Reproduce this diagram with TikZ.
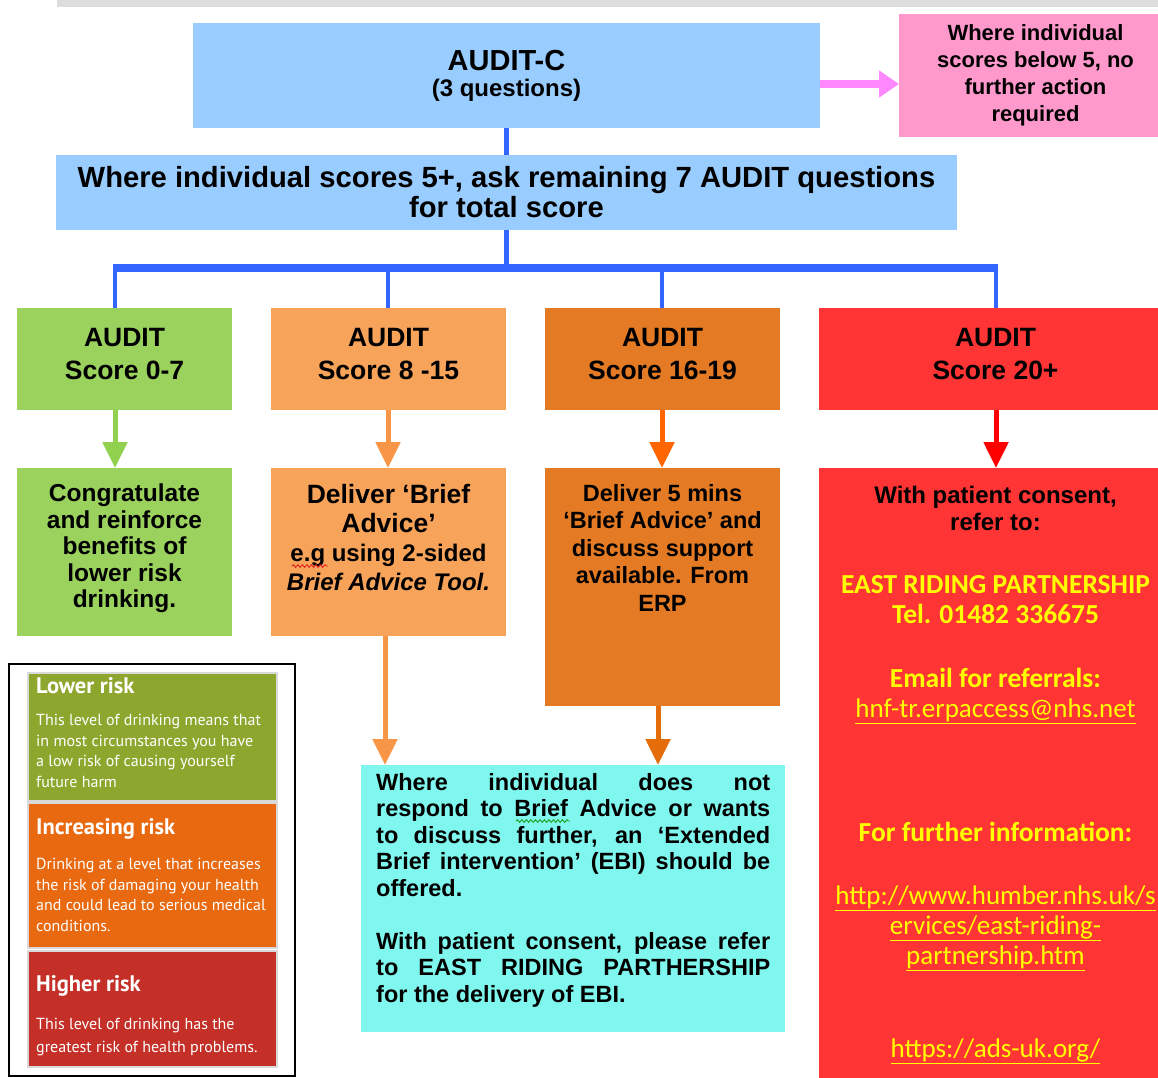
\documentclass[tikz,border=0pt]{standalone}
\usepackage{fontspec}
\setmainfont{Liberation Sans}
\newfontfamily\carl{Carlito}
\newfontfamily\ptsans{PT Sans}
\usetikzlibrary{arrows.meta,decorations.pathmorphing}
\definecolor{cblue}{HTML}{99CCFF}
\definecolor{cpink}{HTML}{FF99CC}
\definecolor{cpinkarr}{HTML}{FF88FF}
\definecolor{cline}{HTML}{3366FF}
\definecolor{cgreen}{HTML}{9BD25E}
\definecolor{clorange}{HTML}{F7A35A}
\definecolor{corange}{HTML}{E47B24}
\definecolor{cred}{HTML}{FF3434}
\definecolor{cgreenA}{HTML}{92D050}
\definecolor{clorangeA}{HTML}{F79646}
\definecolor{corangeA}{HTML}{FF6600}
\definecolor{corangeB}{HTML}{E46C0A}
\definecolor{credA}{HTML}{FF0000}
\definecolor{ccyan}{HTML}{7FF6EE}
\definecolor{cyel}{HTML}{FFFF00}
\definecolor{lgreen}{HTML}{8DA72E}
\definecolor{lorange}{HTML}{E8690F}
\definecolor{lred}{HTML}{C43028}
\definecolor{cgray}{HTML}{DDDDDD}
\definecolor{spellred}{HTML}{E02020}
\definecolor{spellgreen}{HTML}{20A020}
\newcommand{\fsz}[2]{\fontsize{#1}{#2}\selectfont}
\begin{document}
\begin{tikzpicture}[x=1pt,y=-1pt,
  box/.style n args={2}{anchor=north west,inner sep=0pt,outer sep=0pt,minimum width=#1,minimum height=#2},
  txt/.style={inner sep=0pt,align=center},
  scoretxt/.style={txt,font=\fsz{26.5}{33}\bfseries},
  conn/.style={draw=cline,line width=4.5pt},
  barline/.style={draw=cline,line width=8pt},
  arr/.style={line width=5pt,-{Triangle[width=24pt,length=26pt]}},
  panel/.style={draw=black!15,line width=1.5pt},
  wavy/.style={line width=0.9pt,decorate,decoration={snake,amplitude=1.3pt,segment length=4.5pt}},
  legtitle/.style={anchor=west,inner sep=0pt,text=white,font=\ptsans\bfseries\fsz{22.5}{26}},
  legbody/.style={anchor=north west,inner sep=0pt,align=left,text=white,font=\ptsans\fsz{16}{20.7}}]
\useasboundingbox (0,0) rectangle (1158,1077);
\fill[cgray] (57,0) rectangle (1172,7);

% top boxes
\node[box={627pt}{105pt},fill=cblue,txt,font=\fsz{24}{26}\bfseries] (audc) at (193,23)
  {{\fontsize{29}{26}\selectfont AUDIT-C}\\(3 questions)};
\node[box={273pt}{123pt},fill=cpink,txt,font=\fsz{22}{27}\bfseries] (pink) at (899,14)
  {Where individual\\scores below 5, no\\further action\\required};
\node[box={901pt}{75pt},fill=cblue,txt,font=\fsz{29.2}{30}\bfseries] (q7) at (56,155)
  {Where individual scores 5+, ask remaining 7 AUDIT questions\\for total score};

% score boxes
\node[box={215pt}{102pt},fill=cgreen] (a1) at (17,308) {};
\node[box={235pt}{102pt},fill=clorange] (a2) at (271,308) {};
\node[box={235pt}{102pt},fill=corange] (a3) at (545,308) {};
\node[box={353pt}{102pt},fill=cred] (a4) at (819,308) {};
\node[scoretxt] at ([yshift=5pt]a1.center) {AUDIT\\Score 0-7};
\node[scoretxt] at ([yshift=5pt]a2.center) {AUDIT\\Score 8 -15};
\node[scoretxt] at ([yshift=5pt]a3.center) {AUDIT\\Score 16-19};
\node[scoretxt] at ([yshift=5pt]a4.center) {AUDIT\\Score 20+};

% action boxes
\node[box={215pt}{168pt},fill=cgreen] (b1) at (17,468) {};
\node[box={235pt}{168pt},fill=clorange] (b2) at (271,468) {};
\node[box={235pt}{238pt},fill=corange] (b3) at (545,468) {};
\node[box={353pt}{620pt},fill=cred] (b4) at (819,468) {};
\node[box={424pt}{267pt},fill=ccyan] (ebi) at (361,765) {};

\node[txt,anchor=north,font=\fsz{24.5}{26.5}\bfseries] at ([yshift=-16pt]b1.north)
  {Congratulate\\and reinforce\\benefits of\\lower risk\\drinking.};
\node[txt,anchor=north,font=\fsz{24}{29}\bfseries] at ([yshift=-16pt]b2.north)
  {{\fsz{26.5}{29}Deliver ‘Brief}\\{\fsz{26.5}{29}Advice’}\\e.g using 2-sided\\\textit{Brief Advice Tool.}};
\node[txt,anchor=north,font=\fsz{23.5}{27.5}\bfseries] at ([yshift=-16pt]b3.north)
  {Deliver 5 mins\\‘Brief Advice’ and\\discuss support\\available. From\\ERP};
\node[txt,anchor=north,font=\fsz{24}{27}\bfseries] at ([yshift=-18pt]b4.north)
  {With patient consent,\\refer to:};
\node[txt,anchor=north,text=cyel,font=\carl\bfseries\fsz{27.5}{30}] at ([yshift=-107pt]b4.north)
  {EAST RIDING PARTNERSHIP\\Tel. 01482 336675\\[34pt]Email for referrals:\\{\mdseries\fontsize{27}{30}\selectfont\underline{hnf-tr.erpaccess@nhs.net}}\\[94pt]For further information:\\[33pt]{\mdseries\fontsize{27}{30}\selectfont\underline{http://www.humber.nhs.uk/s}}\\{\mdseries\fontsize{27}{30}\selectfont\underline{ervices/east-riding-}}\\{\mdseries\fontsize{27}{30}\selectfont\underline{partnership.htm}}\\[63pt]{\mdseries\fontsize{27}{30}\selectfont\underline{https://ads-uk.org/}}};

\node[anchor=north west,inner sep=0pt,align=left,font=\fsz{23.5}{26.5}\bfseries] at (376,773)
  {\makebox[394pt][s]{Where individual does not}\\
   \makebox[394pt][s]{respond to Brief Advice or wants}\\
   \makebox[394pt][s]{to discuss further, an ‘Extended}\\
   \makebox[394pt][s]{Brief intervention’ (EBI) should be}\\
   offered.\\[26.5pt]
   \makebox[394pt][s]{With patient consent, please refer}\\
   \makebox[394pt][s]{to EAST RIDING PARTHERSHIP}\\
   for the delivery of EBI.};

% spell-check marks
\draw[wavy,spellred] (292,566) -- (328,566);
\draw[wavy,spellgreen] (516,821) -- (570,821);

% legend
\node[box={286pt}{412pt},draw=black,line width=2pt] (leg) at (9,664) {};
\node[box={249pt}{128pt},fill=lgreen,panel] (lg1) at (28,673) {};
\node[box={249pt}{145pt},fill=lorange,panel] (lg2) at (28,803) {};
\node[box={249pt}{116pt},fill=lred,panel] (lg3) at (28,951) {};
\node[legtitle] at (36,686) {Lower risk};
\node[legbody] at (36,714) {This level of drinking means that\\in most circumstances you have\\a low risk of causing yourself\\future harm};
\node[legtitle] at (36,829) {Increasing risk};
\node[legbody] at (36,858) {Drinking at a level that increases\\the risk of damaging your health\\and could lead to serious medical\\conditions.};
\node[legtitle] at (36,986) {Higher risk};
\node[legbody,font=\ptsans\fsz{16}{23}] at (36,1018) {This level of drinking has the\\greatest risk of health problems.};

% connectors
\coordinate (bar) at (506,268);
\coordinate (d1) at (115,268);
\coordinate (d2) at (388,268);
\coordinate (d3) at (662,268);
\coordinate (d4) at (996,268);
\coordinate (e2) at (385,700);
\coordinate (e3) at (658,700);
\draw[conn] (audc.south) -- (q7.north);
\draw[conn] (q7.south) -- (q7.south |- bar);
\draw[barline] ([xshift=-2.25pt]d1) -- ([xshift=2.25pt]d4);
\draw[conn] (d1) -- (d1 |- a1.north);
\draw[conn] (d2) -- (d2 |- a2.north);
\draw[conn] (d3) -- (d3 |- a3.north);
\draw[conn] (d4) -- (d4 |- a4.north);
\draw[arr,cgreenA] (d1 |- a1.south) -- (d1 |- b1.north);
\draw[arr,clorangeA] (d2 |- a2.south) -- (d2 |- b2.north);
\draw[arr,corangeA] (d3 |- a3.south) -- (d3 |- b3.north);
\draw[arr,credA] (d4 |- a4.south) -- (d4 |- b4.north);
\draw[arr,clorangeA] (e2 |- b2.south) -- (e2 |- ebi.north);
\draw[arr,corangeB] (e3 |- b3.south) -- (e3 |- ebi.north);
\draw[cpinkarr,line width=8pt,-{Triangle[width=26pt,length=20pt]}] ([yshift=-8.5pt]audc.east) -- ([yshift=-8.5pt]audc.east -| pink.west);
\end{tikzpicture}
\end{document}
